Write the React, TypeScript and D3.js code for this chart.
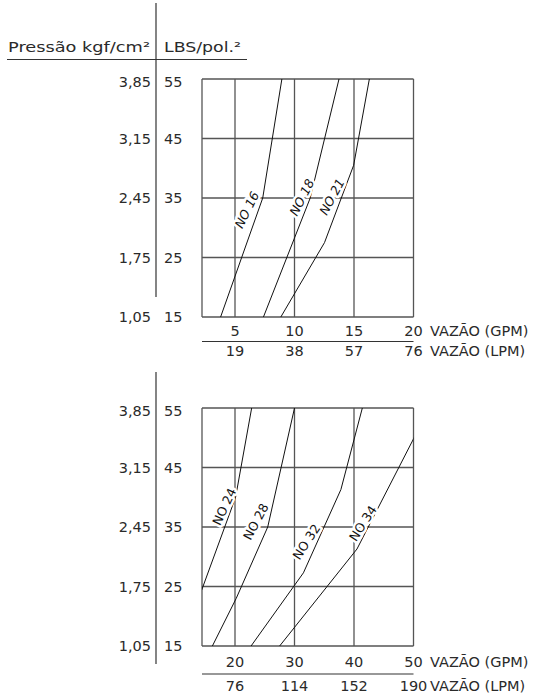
import React, { useEffect, useRef } from 'react';
import * as d3 from 'd3';

// pressure ticks (shared by both panels)
const psiTicks = [55, 45, 35, 25, 15];
const kgfLabels = ['3,85', '3,15', '2,45', '1,75', '1,05'];

// upper panel
const topGpmTicks = [5, 10, 15, 20];
const topLpmLabels = ['19', '38', '57', '76'];
const topCurves: [string, [number, number][]][] = [
    ['NO 16', [[3.79, 15], [7.33, 35], [8.94, 55]]],
    ['NO 18', [[7.39, 15], [11.32, 35], [13.74, 55]]],
    ['NO 21', [[8.85, 15], [12.52, 27.5], [14.97, 40.5], [16.29, 55]]]
];
// label: name, gpm, psi, angle
const topLabels: [string, number, number, number][] = [
    ['NO 16', 6.0, 33.0, -64],
    ['NO 18', 10.62, 35.1, -63],
    ['NO 21', 13.15, 35.2, -62]
];

// lower panel
const botGpmTicks = [20, 30, 40, 50];
const botLpmLabels = ['76', '114', '152', '190'];
const botCurves: [string, [number, number][]][] = [
    ['NO 24', [[14.4, 24.4], [20.1, 40], [22.8, 55]]],
    ['NO 28', [[16.2, 15], [20.2, 23], [25.5, 35], [30.0, 55]]],
    ['NO 32', [[22.7, 15], [31.5, 27.3], [37.8, 41.3], [41.4, 55]]],
    ['NO 34', [[27.5, 15], [40.5, 31.3], [50.2, 50.2]]]
];
const botLabels: [string, number, number, number][] = [
    ['NO 24', 18.2, 38.4, -65],
    ['NO 28', 23.5, 35.9, -62],
    ['NO 32', 32.0, 32.5, -57],
    ['NO 34', 41.5, 35.6, -57]
];

const FONT = '"DejaVu Sans", Verdana, sans-serif';
const FS = 14.5;
const INK = '#2a2a2a';

interface Panel {
    id: string,
    top: number,
    bottom: number,
    gpmTicks: number[],
    lpmLabels: string[],
    curves: [string, [number, number][]][],
    labels: [string, number, number, number][],
    italic: boolean,
    axisFrom: number,
    axisTo: number,
    gpmDy: number,
    ruleDy: number,
    lpmDy: number
}

const panels: Panel[] = [
    { id: 'p1', top: 79, bottom: 317, gpmTicks: topGpmTicks, lpmLabels: topLpmLabels,
      curves: topCurves, labels: topLabels, italic: true, axisFrom: 3, axisTo: 297,
      gpmDy: 19, ruleDy: 24.5, lpmDy: 39 },
    { id: 'p2', top: 408, bottom: 646, gpmTicks: botGpmTicks, lpmLabels: botLpmLabels,
      curves: botCurves, labels: botLabels, italic: false, axisFrom: 372, axisTo: 664,
      gpmDy: 21, ruleDy: 28, lpmDy: 45 }
];

const left = 202;
const firstTick = 235;
const right = 413.5;

export default function App() {
    const ref = useRef<SVGSVGElement>(null);

    useEffect(() => {
        const svg = d3.select(ref.current);
        svg.selectAll('*').remove();

        // header
        svg.append('text')
            .attr('x', 8).attr('y', 52)
            .attr('textLength', 142).attr('lengthAdjust', 'spacingAndGlyphs')
            .attr('font-family', FONT).attr('font-size', FS).attr('fill', INK)
            .text('Pressão kgf/cm²');
        svg.append('text')
            .attr('x', 164).attr('y', 52)
            .attr('textLength', 77).attr('lengthAdjust', 'spacingAndGlyphs')
            .attr('font-family', FONT).attr('font-size', FS).attr('fill', INK)
            .text('LBS/pol.²');
        svg.append('line')
            .attr('x1', 7).attr('x2', 247).attr('y1', 59.5).attr('y2', 59.5)
            .attr('stroke', '#333').attr('stroke-width', 1.2);

        panels.forEach(p => {
            const g0 = p.gpmTicks[0];
            const g1 = p.gpmTicks[p.gpmTicks.length - 1];
            const x = d3.scaleLinear().domain([g0, g1]).range([firstTick, right]);
            const y = d3.scaleLinear().domain([15, 55]).range([p.bottom, p.top]);
            const xMin = x.invert(left);
            const labelY = (d: number) => y(d) + (d === 55 ? 8 : 5);

            const g = svg.append('g');

            // vertical axis rule
            g.append('line')
                .attr('x1', 156).attr('x2', 156).attr('y1', p.axisFrom).attr('y2', p.axisTo)
                .attr('stroke', '#333').attr('stroke-width', 1.2);

            // y tick labels
            g.selectAll('.kgf').data(psiTicks).enter().append('text')
                .attr('x', 151).attr('y', labelY)
                .attr('text-anchor', 'end')
                .attr('font-family', FONT).attr('font-size', FS).attr('fill', INK)
                .text((d: number, i: number) => kgfLabels[i]);
            g.selectAll('.psi').data(psiTicks).enter().append('text')
                .attr('x', 164).attr('y', labelY)
                .attr('font-family', FONT).attr('font-size', FS).attr('fill', INK)
                .text((d: number) => String(d));

            // grid
            g.selectAll('.vgrid').data(p.gpmTicks).enter().append('line')
                .attr('x1', (d: number) => x(d)).attr('x2', (d: number) => x(d))
                .attr('y1', p.top).attr('y2', p.bottom)
                .attr('stroke', '#555').attr('stroke-width', 1.3);
            g.selectAll('.hgrid').data(psiTicks).enter().append('line')
                .attr('x1', x(xMin)).attr('x2', x(g1))
                .attr('y1', (d: number) => y(d)).attr('y2', (d: number) => y(d))
                .attr('stroke', '#555').attr('stroke-width', 1.3);
            g.append('line')
                .attr('x1', x(xMin)).attr('x2', x(xMin)).attr('y1', p.top).attr('y2', p.bottom)
                .attr('stroke', '#555').attr('stroke-width', 1.3);

            // curves, clipped to the box
            svg.append('clipPath').attr('id', 'clip-' + p.id)
                .append('rect')
                .attr('x', x(xMin)).attr('y', p.top)
                .attr('width', x(g1) - x(xMin)).attr('height', p.bottom - p.top);
            const line = d3.line<[number, number]>()
                .x(d => x(d[0]))
                .y(d => y(d[1]));
            g.append('g').attr('clip-path', `url(#clip-${p.id})`)
                .selectAll('path').data(p.curves).enter().append('path')
                .attr('d', (d: [string, [number, number][]]) => line(d[1]))
                .attr('fill', 'none').attr('stroke', '#111').attr('stroke-width', 1);

            // curve labels with white halo
            g.selectAll('.lbl').data(p.labels).enter().append('text')
                .attr('transform', (d: [string, number, number, number]) =>
                    `translate(${x(d[1])},${y(d[2])}) rotate(${d[3]})`)
                .attr('text-anchor', 'middle')
                .attr('dy', '0.35em')
                .attr('font-family', FONT).attr('font-size', 12.5)
                .attr('font-style', p.italic ? 'italic' : 'normal')
                .attr('fill', '#111')
                .attr('stroke', '#fff').attr('stroke-width', 5)
                .attr('stroke-linejoin', 'round')
                .attr('paint-order', 'stroke')
                .text((d: [string, number, number, number]) => d[0]);

            // x axis labels
            g.selectAll('.gpm').data(p.gpmTicks).enter().append('text')
                .attr('x', (d: number) => x(d)).attr('y', p.bottom + p.gpmDy)
                .attr('text-anchor', 'middle')
                .attr('font-family', FONT).attr('font-size', FS).attr('fill', INK)
                .text((d: number) => String(d));
            g.append('text')
                .attr('x', 430).attr('y', p.bottom + p.gpmDy)
                .attr('font-family', FONT).attr('font-size', FS).attr('fill', INK)
                .text('VAZÃO (GPM)');
            g.append('line')
                .attr('x1', x(xMin)).attr('x2', x(g1))
                .attr('y1', p.bottom + p.ruleDy).attr('y2', p.bottom + p.ruleDy)
                .attr('stroke', '#333').attr('stroke-width', 1.2);
            g.selectAll('.lpm').data(p.gpmTicks).enter().append('text')
                .attr('x', (d: number) => x(d)).attr('y', p.bottom + p.lpmDy)
                .attr('text-anchor', 'middle')
                .attr('font-family', FONT).attr('font-size', FS).attr('fill', INK)
                .text((d: number, i: number) => p.lpmLabels[i]);
            g.append('text')
                .attr('x', 430).attr('y', p.bottom + p.lpmDy)
                .attr('font-family', FONT).attr('font-size', FS).attr('fill', INK)
                .text('VAZÃO (LPM)');
        });
    }, []);

    return (
        <svg ref={ref} width={550} height={695}
            style={{ position: 'absolute', left: 0, top: 0, background: '#fff' }} />
    );
}
